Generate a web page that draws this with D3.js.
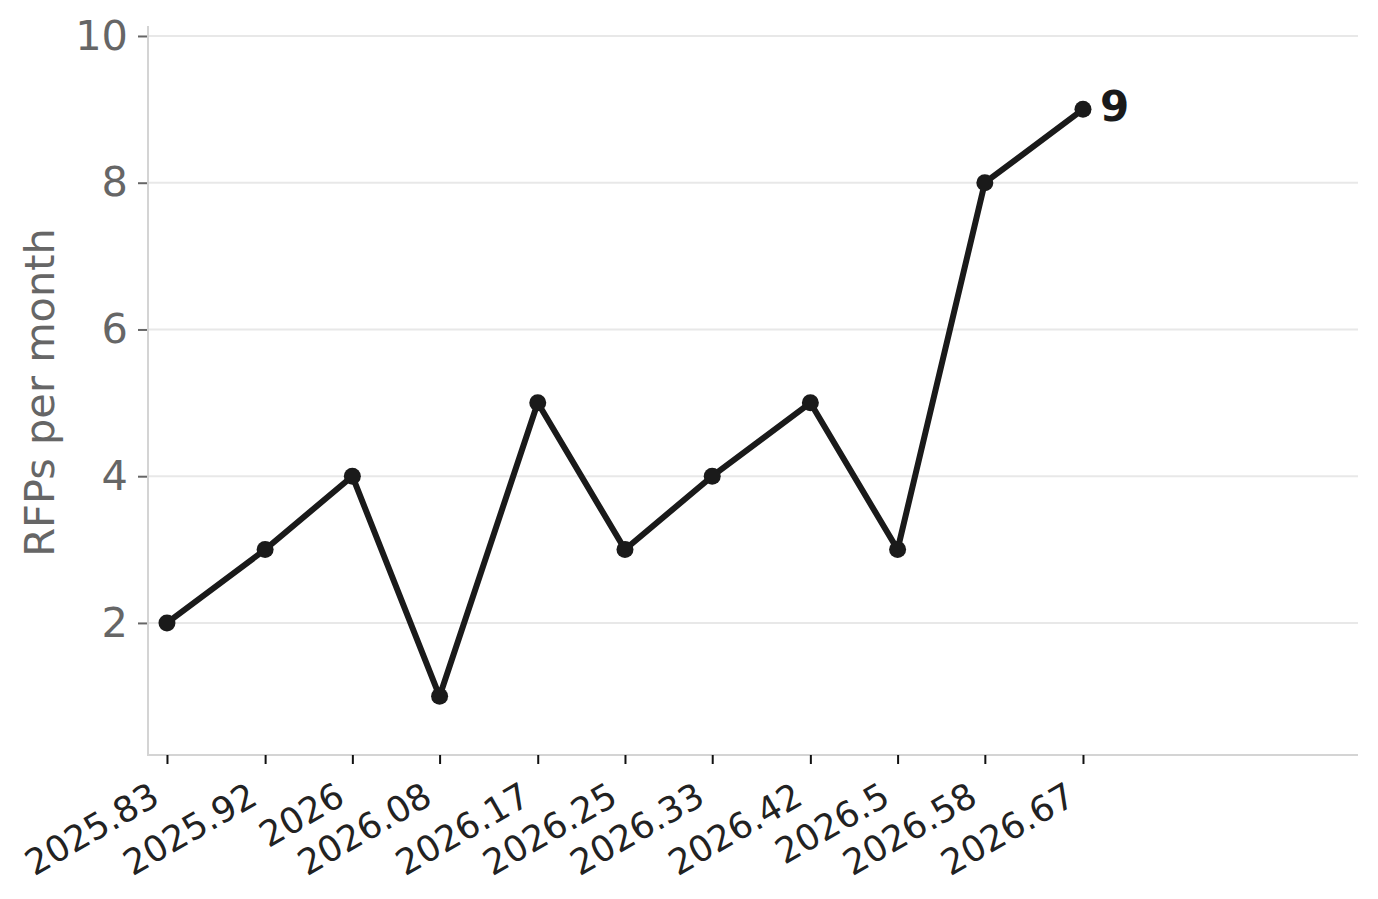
<!DOCTYPE html>
<html>
<head>
<meta charset="utf-8">
<script src="https://cdn.jsdelivr.net/npm/d3@7"></script>
<style>
  html, body { margin: 0; padding: 0; background: #fff; }
  svg { display: block; font-family: "DejaVu Sans", sans-serif; }
</style>
</head>
<body>
<svg id="chart" width="1378" height="899"></svg>
<script>
// Data
const xValues = [2025.83, 2025.92, 2026.00, 2026.08, 2026.17, 2026.25, 2026.33, 2026.42, 2026.50, 2026.58, 2026.67];
const xTickLabels = ["2025.83", "2025.92", "2026", "2026.08", "2026.17", "2026.25", "2026.33", "2026.42", "2026.5", "2026.58", "2026.67"];
const rfps = [2, 3, 4, 1, 5, 3, 4, 5, 3, 8, 9];
const yTicks = [2, 4, 6, 8, 10];
const yLabel = "RFPs per month";

const W = 1378, H = 899;
const margin = { left: 148, right: 20, top: 26, bottom: 144 };

const svg = d3.select("#chart");

const x = d3.scaleLinear()
  .domain([2025.8126, 2026.9222])
  .range([margin.left, W - margin.right]);
const y = d3.scaleLinear()
  .domain([0.2, 10.136])
  .range([H - margin.bottom, margin.top]);

// Gridlines
svg.append("g").selectAll("line").data(yTicks).join("line")
  .attr("x1", margin.left).attr("x2", W - margin.right)
  .attr("y1", d => y(d)).attr("y2", d => y(d))
  .attr("stroke", "#e8e8e8").attr("stroke-width", 2);

// Spines
svg.append("line")
  .attr("x1", margin.left).attr("x2", margin.left)
  .attr("y1", margin.top).attr("y2", H - margin.bottom)
  .attr("stroke", "#d4d4d4").attr("stroke-width", 2);
svg.append("line")
  .attr("x1", margin.left - 1).attr("x2", W - margin.right)
  .attr("y1", H - margin.bottom).attr("y2", H - margin.bottom)
  .attr("stroke", "#d4d4d4").attr("stroke-width", 2);

// Y axis
const yAxis = d3.axisLeft(y).tickValues(yTicks).tickSize(9).tickPadding(10).tickFormat(d3.format("d"));
const gy = svg.append("g").attr("transform", `translate(${margin.left - 1},0)`).call(yAxis);
gy.select(".domain").remove();
gy.selectAll(".tick line").attr("stroke", "#666").attr("stroke-width", 2);
gy.selectAll(".tick text")
  .attr("fill", "#666")
  .style("font-family", "DejaVu Sans, sans-serif")
  .style("font-size", "41.5px");

// X axis
const xAxis = d3.axisBottom(x).tickValues(xValues).tickSize(9)
  .tickFormat((d, i) => xTickLabels[i]);
const gx = svg.append("g").attr("transform", `translate(0,${H - margin.bottom})`).call(xAxis);
gx.select(".domain").remove();
gx.selectAll(".tick line").attr("stroke", "#111").attr("stroke-width", 2);
gx.selectAll(".tick text")
  .attr("fill", "#222")
  .attr("text-anchor", "end")
  .attr("x", -6).attr("y", 48).attr("dy", 0)
  .attr("transform", "rotate(-30,-6,48)")
  .style("font-family", "DejaVu Sans, sans-serif")
  .style("font-size", "35.5px");

// Y label
svg.append("text")
  .attr("transform", `translate(54,${(margin.top + H - margin.bottom) / 2 + 2}) rotate(-90)`)
  .attr("text-anchor", "middle")
  .attr("fill", "#666")
  .style("font-size", "41.5px")
  .text(yLabel);

// Line
const pts = xValues.map((d, i) => [d, rfps[i]]);
svg.append("path")
  .datum(pts)
  .attr("fill", "none")
  .attr("stroke", "#1a1a1a")
  .attr("stroke-width", 6)
  .attr("stroke-linejoin", "round")
  .attr("d", d3.line().x(d => x(d[0])).y(d => y(d[1])));

svg.append("g").selectAll("circle").data(pts).join("circle")
  .attr("cx", d => x(d[0])).attr("cy", d => y(d[1]))
  .attr("r", 8.5).attr("fill", "#1a1a1a");

// End label
const last = pts[pts.length - 1];
svg.append("text")
  .attr("x", x(last[0]) + 17)
  .attr("y", y(last[1]) - 3)
  .attr("dy", "0.36em")
  .attr("fill", "#1a1a1a")
  .style("font-weight", "bold")
  .style("font-size", "42px")
  .text(String(last[1]));
</script>
</body>
</html>
